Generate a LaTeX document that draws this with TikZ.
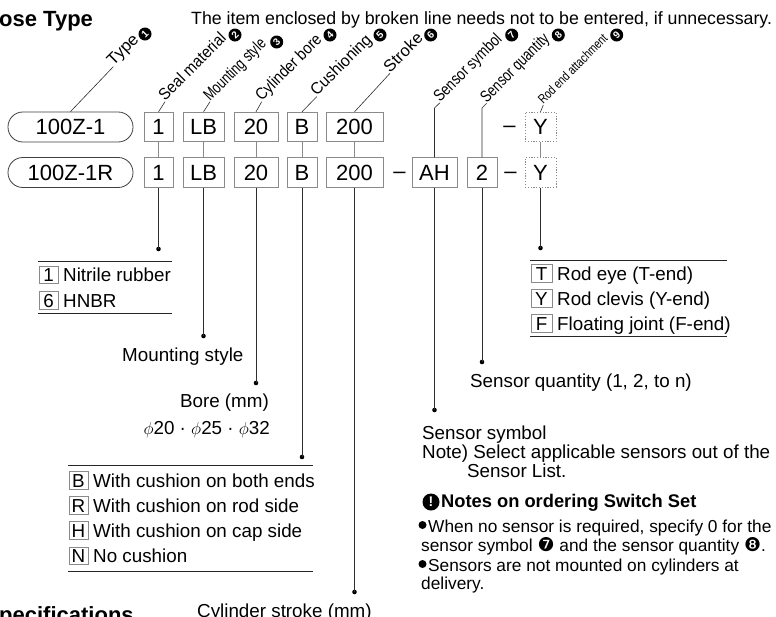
\documentclass[tikz,border=0pt]{standalone}
\usepackage{graphicx}
\usepackage{fontspec}
\setmainfont{Liberation Sans}
\newfontfamily\dejavu{DejaVu Sans}
\usetikzlibrary{calc}
\newcommand\fsz[1]{\fontsize{#1}{#1}\selectfont}
\newcommand\cnum[1]{{\dejavu\fsz{19}#1}}
\definecolor{boxgray}{HTML}{8A8A8A}
\definecolor{linegray}{HTML}{2E2E2E}
\begin{document}
\begin{tikzpicture}[x=1pt,y=-1pt,
  codebox/.style={draw=boxgray, line width=0.8pt, inner sep=0pt, minimum height=29.5pt, font=\fsz{22}, text height=15.8pt, text depth=0pt},
  optbox/.style={codebox, dash pattern=on 1.2pt off 1.6pt},
  pill/.style={draw=black!75, line width=0.8pt, rounded corners=14.8pt, minimum width=125pt, minimum height=30pt, inner sep=0pt, font=\fsz{22}, text height=15.8pt, text depth=0pt},
  dashtext/.style={anchor=base, inner sep=0pt, font=\fsz{22}},
  lab/.style={rotate=45, anchor=base west, inner sep=0pt, font=\fsz{16.5}},
  cn/.style={circle, fill=black, text=white, inner sep=0pt, minimum size=13pt, font=\bfseries\fsz{10}, rotate=45},
  lead/.style={draw=linegray, line width=0.6pt},
  link/.style={draw=boxgray, line width=0.8pt},
  dotn/.style={circle, fill=black, inner sep=0pt, minimum size=4.6pt},
  keybox/.style={draw=boxgray, line width=0.7pt, inner sep=0pt, minimum width=19pt, minimum height=17.5pt, font=\fsz{18.8}, text height=13.4pt, text depth=0pt},
  legtext/.style={anchor=west, inner sep=0pt, font=\fsz{18.8}, text height=13.4pt, text depth=0pt},
  body/.style={anchor=base west, inner sep=0pt, font=\fsz{18.8}},
  bodyr/.style={anchor=base east, inner sep=0pt, font=\fsz{18.8}},
  small/.style={anchor=base west, inner sep=0pt, font=\fsz{17.3}},
  rulel/.style={draw=black!85, line width=0.8pt},
  bul/.style={circle, fill=black, inner sep=0pt, minimum size=8pt},
]
\fill[white] (0,0) rectangle (776,616);
\useasboundingbox (0,0) rectangle (776,616);

% headings
\node[anchor=base west, inner sep=0pt, font=\bfseries\fsz{22}] (title) at (-1,26) {ose Type};
\node[anchor=base west, inner sep=0pt, font=\fsz{17.75}] (note) at (191,24) {The item enclosed by broken line needs not to be entered, if unnecessary.};

% row 1
\node[pill] (p1) at (70.5,127) {100Z-1};
\node[codebox, minimum width=29pt] (a1) at (158.5,127) {1};
\node[codebox, minimum width=41pt] (a2) at (203.5,127) {LB};
\node[codebox, minimum width=44pt] (a3) at (256,127) {20};
\node[codebox, minimum width=30pt] (a4) at (302,127) {B};
\node[codebox, minimum width=57pt] (a5) at (354.5,127) {200};
\node[dashtext] (ad) at (509.5,132.8) {–};
\node[optbox, minimum width=31pt] (a9) at (540.5,127) {Y};

% row 2
\node[pill] (p2) at (70.5,172.5) {100Z-1R};
\node[codebox, minimum width=29pt] (b1) at (158.5,172.5) {1};
\node[codebox, minimum width=41pt] (b2) at (203.5,172.5) {LB};
\node[codebox, minimum width=44pt] (b3) at (256,172.5) {20};
\node[codebox, minimum width=30pt] (b4) at (302,172.5) {B};
\node[codebox, minimum width=57pt] (b5) at (354.5,172.5) {200};
\node[dashtext] (bd1) at (399.5,178.3) {–};
\node[codebox, minimum width=45pt] (b7) at (434.5,172.5) {AH};
\node[codebox, minimum width=30pt] (b8) at (482,172.5) {2};
\node[dashtext] (bd2) at (510.5,178.3) {–};
\node[optbox, minimum width=31pt] (b9) at (540.5,172.5) {Y};

% links between rows
\foreach \i in {1,...,5} {\draw[link] (a\i.south) -- (b\i.north);}
\draw[link] (a9.south) -- (b9.north);

% rotated labels
\node[lab] (l1) at (113.3,66.7) {\scalebox{1.03}[1]{Type}};
\node[lab] (l2) at (165,101.7) {\scalebox{0.91}[1]{Seal material}};
\node[lab] (l3) at (210,101.7) {\scalebox{0.755}[1]{Mounting style}};
\node[lab] (l4) at (261.7,101.7) {\scalebox{0.877}[1]{Cylinder bore}};
\node[lab] (l5) at (316.7,96.7) {\scalebox{0.955}[1]{Cushioning}};
\node[lab] (l6) at (390,73.3) {\scalebox{1.0}[1]{Stroke}};
\node[lab] (l7) at (440,102.7) {\scalebox{0.81}[1]{Sensor symbol}};
\node[lab] (l8) at (486.7,103.3) {\scalebox{0.782}[1]{Sensor quantity}};
\node[lab, font=\fsz{13}] (l9) at (543.3,105) {\scalebox{0.785}[1]{Rod end attachment}};
\node[cn] (c1) at (145,34) {1};
\node[cn] (c2) at (235,35) {2};
\node[cn] (c3) at (276.7,42) {3};
\node[cn] (c4) at (330,35) {4};
\node[cn] (c5) at (380,35) {5};
\node[cn] (c6) at (430.7,35) {6};
\node[cn] (c7) at (511.7,35) {7};
\node[cn] (c8) at (558.3,35) {8};
\node[cn] (c9) at (616.7,35) {9};

% leaders up
\coordinate (u7) at (434.5,108);
\coordinate (u8) at (482,108);
\draw[lead] (p1.north) -- (l1.base west);
\draw[lead] (a1.north) -- (l2.base west);
\draw[lead] (a2.north) -- (l3.base west);
\draw[lead] (a3.north) -- (l4.base west);
\draw[lead] (a4.north) -- (l5.base west);
\draw[lead] (a5.north) -- (l6.base west);
\draw[lead] (b7.north) -- (u7) -- (l7.base west);
\draw[lead] (b8.north) -- (u8) -- (l8.base west);
\draw[lead] (a9.north) -- (l9.base west);

% leaders down with dots
\node[dotn] (d1) at (158.5,249) {};
\node[dotn] (d2) at (203.5,336) {};
\node[dotn] (d3) at (256,383) {};
\node[dotn] (d4) at (302,457) {};
\node[dotn] (d5) at (354.5,592) {};
\node[dotn] (d7) at (434.5,410) {};
\node[dotn] (d8) at (482,362) {};
\node[dotn] (d9) at (540.5,248) {};
\foreach \i in {1,2,3,4,5,7,8,9} {\draw[lead] (b\i.south) -- (d\i.center);}

% seal material legend
\draw[rulel] (38,261) -- (172,261);
\draw[rulel] (38,313) -- (172,313);
\node[keybox] (k1) at (48.5,275) {1};
\node[legtext] (k1t) at (63,275) {Nitrile rubber};
\node[keybox] (k6) at (48.5,300.5) {6};
\node[legtext] (k6t) at (63,300.5) {HNBR};

% rod end legend
\draw[rulel] (530,260) -- (727,260);
\draw[rulel] (530,336) -- (727,336);
\node[keybox, minimum width=21pt] (kT) at (541.5,273.5) {T};
\node[legtext] (kTt) at (557,273.5) {Rod eye (T-end)};
\node[keybox, minimum width=21pt] (kY) at (541.5,298.5) {Y};
\node[legtext] (kYt) at (557,298.5) {Rod clevis (Y-end)};
\node[keybox, minimum width=21pt] (kF) at (541.5,323.5) {F};
\node[legtext] (kFt) at (557,323.5) {Floating joint (F-end)};

% cushioning legend
\draw[rulel] (68,465) -- (313,465);
\draw[rulel] (68,571) -- (313,571);
\node[keybox] (kB) at (78.5,480.5) {B};
\node[legtext] (kBt) at (93,480.5) {With cushion on both ends};
\node[keybox] (kR) at (78.5,505.5) {R};
\node[legtext] (kRt) at (93,505.5) {With cushion on rod side};
\node[keybox] (kH) at (78.5,530.5) {H};
\node[legtext] (kHt) at (93,530.5) {With cushion on cap side};
\node[keybox] (kN) at (78.5,556) {N};
\node[legtext] (kNt) at (93,556) {No cushion};

% other descriptions
\node[body] (tms) at (122,361) {Mounting style};
\node[bodyr] (tbore) at (269,407) {Bore (mm)};
\node[bodyr] (tphi) at (270,434) {$\phi$20 · $\phi$25 · $\phi$32};
\node[body] (tstroke) at (197,617) {Cylinder stroke (mm)};
\node[anchor=base west, inner sep=0pt, font=\bfseries\fsz{22}] (spec) at (-1,622) {pecifications};
\node[body] (tsq) at (470,387) {Sensor quantity (1, 2, to n)};
\node[body] (tss) at (422,439) {Sensor symbol};
\node[body] (tnote) at (422,458) {Note) Select applicable sensors out of the};
\node[body] (tlist) at (467,477) {Sensor List.};

% notes on ordering
\node[circle, fill=black, text=white, inner sep=0pt, minimum size=17pt, font=\bfseries\fsz{14}] (warn) at (431,502) {!};
\node[anchor=base west, inner sep=0pt, font=\bfseries\fsz{18.3}] (nh) at (441,507) {Notes on ordering Switch Set};
\node[bul] (bu1) at (422.5,525) {};
\node[small] (n1) at (428,532) {When no sensor is required, specify 0 for the};
\node[small] (n2) at (421,551) {sensor symbol \cnum{❼} and the sensor quantity \cnum{❽}.};
\node[bul] (bu2) at (422.5,564) {};
\node[small] (n3) at (428,571) {Sensors are not mounted on cylinders at};
\node[small] (n4) at (421,589) {delivery.};
\end{tikzpicture}
\end{document}
